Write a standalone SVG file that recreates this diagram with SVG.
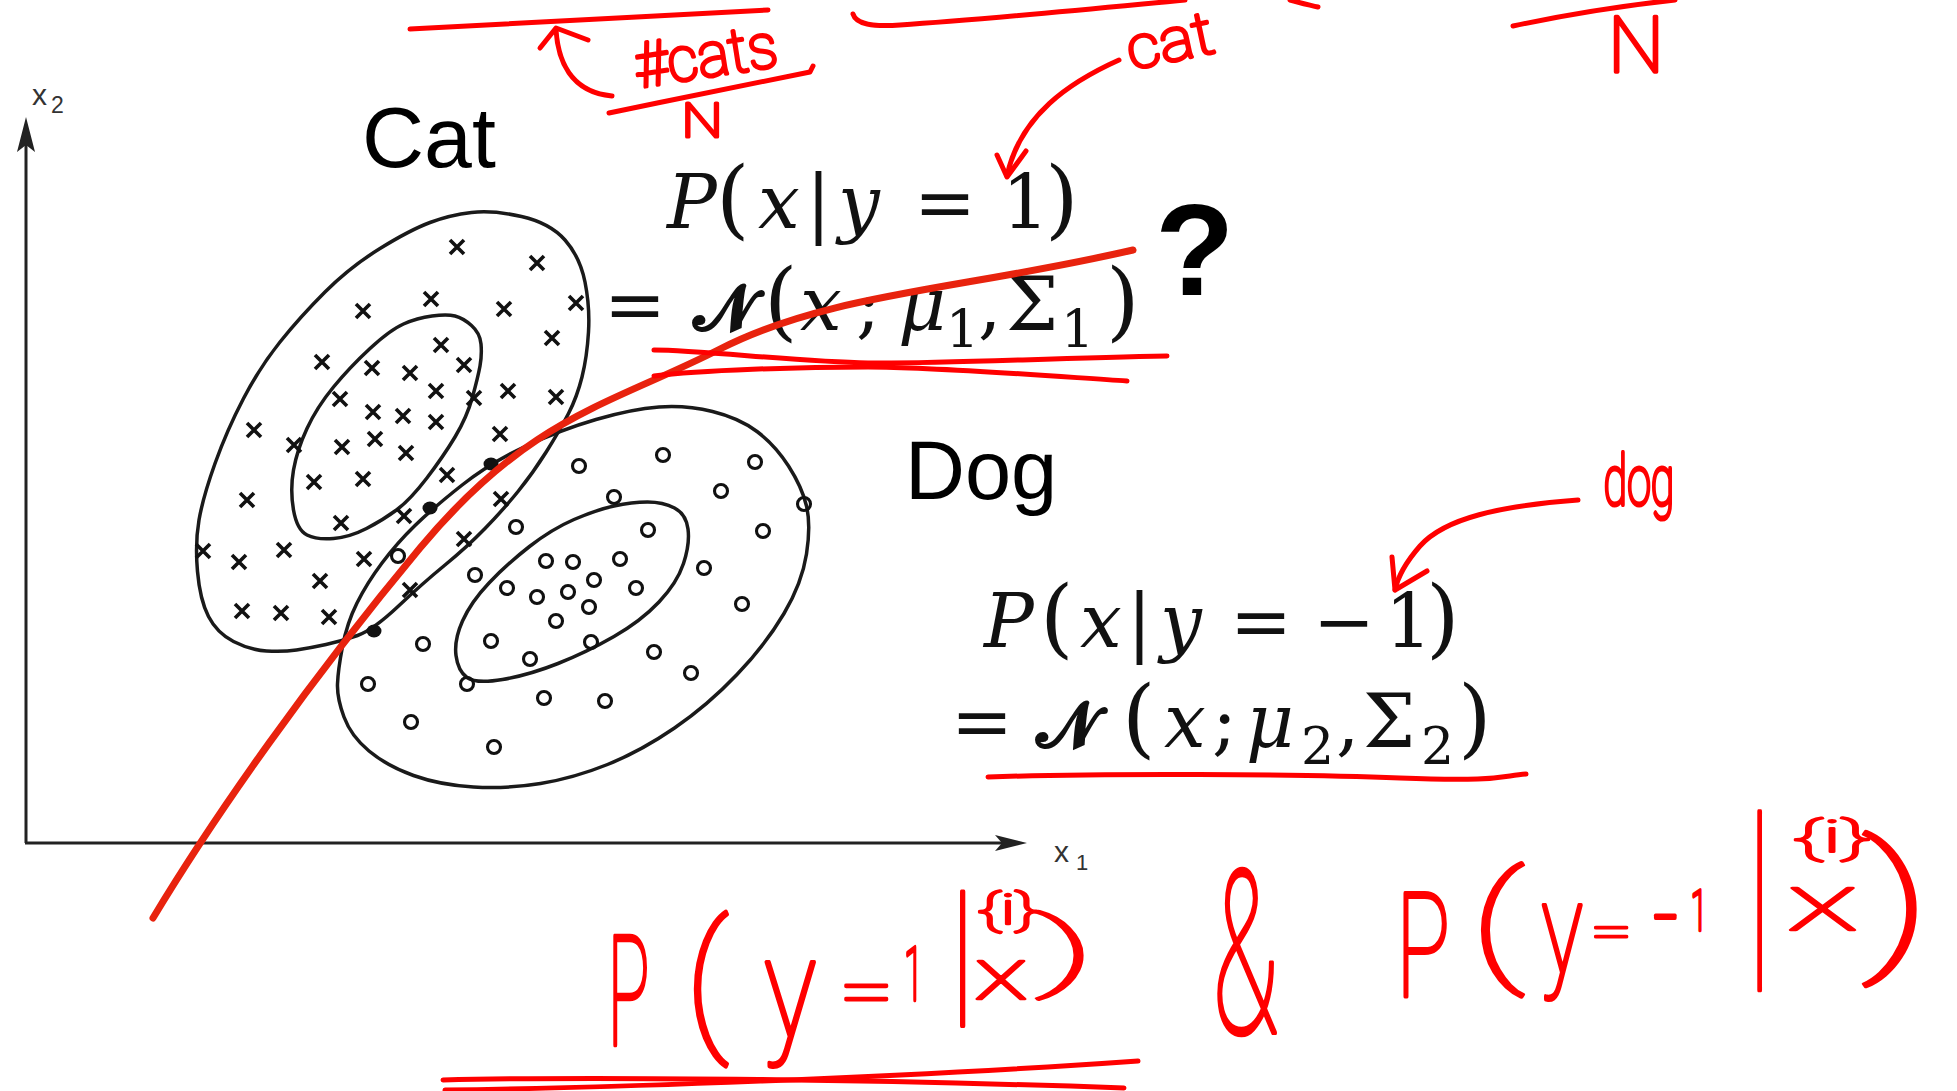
<svg xmlns="http://www.w3.org/2000/svg" xmlns:xlink="http://www.w3.org/1999/xlink" width="1957" height="1091" viewBox="0 0 1957 1091">
<style>
.ax{stroke:#222;stroke-width:3;fill:none}
.ell{stroke:#1a1a1a;stroke-width:3.5;fill:none}
.red{stroke:#ff0000;stroke-width:5;fill:none;stroke-linecap:round;stroke-linejoin:round}
.curve{stroke:#e8230e;stroke-width:7;fill:none;stroke-linecap:round}
.lbl{font-family:"Liberation Sans",Arial,sans-serif;fill:#000}
.axl{font-family:"Liberation Sans",Arial,sans-serif;fill:#333}
.m{font-family:"DejaVu Serif","Liberation Serif",serif;font-size:74px;fill:#111}
.i{font-style:italic}
.p{font-size:86px}
.sub{font-size:52px}
.nn{font-size:64px;font-weight:bold}
.hw{fill:#ff0000;font-family:Roboto,"Liberation Sans",sans-serif;font-weight:100;font-size:100px;text-anchor:middle;stroke:#ff0000;stroke-width:3.5;vector-effect:non-scaling-stroke;stroke-linejoin:round}
.hws{fill:#ff0000;font-family:Roboto,"Liberation Sans",sans-serif;font-weight:100;font-size:100px;stroke:#ff0000;stroke-width:3.5;vector-effect:non-scaling-stroke;stroke-linejoin:round}
</style>
<defs>
<path id="xm" d="M-7,-7 L7,7 M7,-7 L-7,7" stroke="#111" stroke-width="3.6" fill="none"/>
<circle id="om" r="6.5" fill="none" stroke="#111" stroke-width="3.1"/>
</defs>
<rect width="1957" height="1091" fill="#fff"/>

<g id="axes">
<line class="ax" x1="26" y1="843" x2="26" y2="140"/>
<path d="M26,117 L35,152 L26,145 L17,152 Z" fill="#222"/>
<line class="ax" x1="25" y1="843" x2="1008" y2="843"/>
<path d="M1027,843 L995,835 L1002,843 L995,851 Z" fill="#222"/>
<text class="axl" x="32" y="105" font-size="30">x</text><text class="axl" x="51" y="113" font-size="23">2</text>
<text class="axl" x="1054" y="862" font-size="30">x</text><text class="axl" x="1076" y="870" font-size="22">1</text>
</g>

<g id="cat-cluster">
<path class="ell" d="M430,222.5 Q450,215 471.5,212.5 Q493,210 521.5,216.5 Q550,223 565,240 Q580,257 585,282 Q590,307 588.5,332 Q587,357 582,377 Q577,397 568.5,413.5 Q560,430 546.5,451.5 Q533,473 518,491.5 Q503,510 485,528.5 Q467,547 445,565 Q423,583 398,606.5 Q373,630 357.5,635.5 Q342,641 326,644.5 Q310,648 296.5,650 Q283,652 266.5,651 Q250,650 233.5,641.5 Q217,633 208.5,616.5 Q200,600 197.5,571.5 Q195,543 199,520 Q203,497 215,463.5 Q227,430 243.5,398.5 Q260,367 280,342 Q300,317 325,292 Q350,267 380,248.5 Q410,230 430,222.5 Z"/>
<path class="ell" d="M403.5,324 Q417,318 432,316 Q447,314 455,316 Q463,318 471.5,325.5 Q480,333 481,344 Q482,355 480,366 Q478,377 472.5,397 Q467,417 455,437 Q443,457 426.5,478.5 Q410,500 396.5,510 Q383,520 366.5,528.5 Q350,537 333.5,538.5 Q317,540 307,535 Q297,530 293.5,510 Q290,490 293.5,470 Q297,450 307,428.5 Q317,407 333.5,387 Q350,367 370,348.5 Q390,330 403.5,324 Z"/>
<use href="#xm" x="457" y="247"/><use href="#xm" x="537" y="263"/><use href="#xm" x="431" y="299"/><use href="#xm" x="363" y="311"/><use href="#xm" x="504" y="309"/><use href="#xm" x="576" y="303"/><use href="#xm" x="552" y="338"/><use href="#xm" x="441" y="345"/><use href="#xm" x="322" y="362"/><use href="#xm" x="372" y="368"/><use href="#xm" x="410" y="373"/><use href="#xm" x="464" y="365"/><use href="#xm" x="436" y="391"/><use href="#xm" x="340" y="399"/><use href="#xm" x="474" y="398"/><use href="#xm" x="508" y="391"/><use href="#xm" x="556" y="397"/><use href="#xm" x="373" y="412"/><use href="#xm" x="403" y="416"/><use href="#xm" x="436" y="422"/><use href="#xm" x="254" y="430"/><use href="#xm" x="294" y="445"/><use href="#xm" x="375" y="439"/><use href="#xm" x="342" y="447"/><use href="#xm" x="406" y="453"/><use href="#xm" x="500" y="434"/><use href="#xm" x="314" y="482"/><use href="#xm" x="363" y="479"/><use href="#xm" x="447" y="475"/><use href="#xm" x="247" y="500"/><use href="#xm" x="341" y="523"/><use href="#xm" x="404" y="516"/><use href="#xm" x="501" y="499"/><use href="#xm" x="203" y="551"/><use href="#xm" x="239" y="562"/><use href="#xm" x="284" y="550"/><use href="#xm" x="364" y="559"/><use href="#xm" x="464" y="539"/><use href="#xm" x="320" y="581"/><use href="#xm" x="410" y="590"/><use href="#xm" x="242" y="611"/><use href="#xm" x="281" y="613"/><use href="#xm" x="329" y="617"/>
</g>

<g id="dog-cluster">
<path class="ell" d="M596,419.5 Q632,409 659,407 Q686,405 712.5,411.5 Q739,418 757,431.5 Q775,445 788.5,466 Q802,487 806.5,506 Q811,525 806.5,554 Q802,583 784,613.5 Q766,644 737,674.5 Q708,705 674.5,728 Q641,751 607.5,764.5 Q574,778 540.5,783.5 Q507,789 473.5,787 Q440,785 413.5,775.5 Q387,766 369,751 Q351,736 344,717 Q337,698 337.5,684 Q338,670 342.5,646.5 Q347,623 357,603 Q367,583 382,563 Q397,543 415,525.5 Q433,508 461.5,485.5 Q490,463 525,446.5 Q560,430 596,419.5 Z"/>
<path class="ell" d="M614,506 Q632,502 647.5,502 Q663,502 674.5,508 Q686,514 688,529 Q690,544 683.5,563.5 Q677,583 659,602 Q641,621 614,636.5 Q587,652 558,663.5 Q529,675 502.5,679.5 Q476,684 467,677.5 Q458,671 456,655.5 Q454,640 462.5,621 Q471,602 489,583 Q507,564 529.5,546.5 Q552,529 574,519.5 Q596,510 614,506 Z"/>
<use href="#om" x="663" y="455"/><use href="#om" x="579" y="466"/><use href="#om" x="755" y="462"/><use href="#om" x="721" y="491"/><use href="#om" x="614" y="497"/><use href="#om" x="804" y="504"/><use href="#om" x="516" y="527"/><use href="#om" x="648" y="530"/><use href="#om" x="763" y="531"/><use href="#om" x="398" y="556"/><use href="#om" x="546" y="561"/><use href="#om" x="573" y="562"/><use href="#om" x="620" y="559"/><use href="#om" x="704" y="568"/><use href="#om" x="475" y="575"/><use href="#om" x="507" y="588"/><use href="#om" x="537" y="597"/><use href="#om" x="568" y="592"/><use href="#om" x="594" y="580"/><use href="#om" x="636" y="588"/><use href="#om" x="742" y="604"/><use href="#om" x="589" y="607"/><use href="#om" x="556" y="621"/><use href="#om" x="491" y="641"/><use href="#om" x="591" y="642"/><use href="#om" x="423" y="644"/><use href="#om" x="654" y="652"/><use href="#om" x="530" y="659"/><use href="#om" x="691" y="673"/><use href="#om" x="368" y="684"/><use href="#om" x="467" y="684"/><use href="#om" x="544" y="698"/><use href="#om" x="605" y="701"/><use href="#om" x="411" y="722"/><use href="#om" x="494" y="747"/>
</g>

<g id="boundary-dots" fill="#111">
<ellipse cx="491" cy="464" rx="7.5" ry="6.5"/><ellipse cx="430" cy="508" rx="7.5" ry="6.5"/><ellipse cx="374" cy="631" rx="7.5" ry="6.5"/>
</g>

<g id="labels">
<text class="lbl" x="362" y="167" font-size="86">Cat</text>
<text class="lbl" x="905" y="499" font-size="83">Dog</text>
<text class="lbl" x="1155" y="295" font-size="130" font-weight="bold">?</text>
</g>

<g id="eq-cat">
<text class="m" y="228"><tspan x="667" class="i">P</tspan><tspan x="716" class="p">(</tspan><tspan x="758" class="i">x</tspan><tspan x="806">|</tspan><tspan x="838" class="i">y</tspan><tspan x="914">=</tspan><tspan x="1002">1</tspan><tspan x="1045" class="p">)</tspan></text>
<text class="m" y="330"><tspan x="604">=</tspan><tspan x="693" class="nn">𝓝</tspan><tspan x="764" class="p">(</tspan><tspan x="800" class="i">x</tspan><tspan x="856">;</tspan><tspan x="898" class="i">μ</tspan><tspan x="946" y="347" class="sub">1</tspan><tspan x="978" y="330">,</tspan><tspan x="1006">Σ</tspan><tspan x="1061" y="347" class="sub">1</tspan><tspan x="1106" y="330" class="p">)</tspan></text>
</g>

<g id="eq-dog">
<text class="m" y="647"><tspan x="984" class="i">P</tspan><tspan x="1040" class="p">(</tspan><tspan x="1080" class="i">x</tspan><tspan x="1127">|</tspan><tspan x="1160" class="i">y</tspan><tspan x="1230">=</tspan><tspan x="1313">−</tspan><tspan x="1385">1</tspan><tspan x="1426" class="p">)</tspan></text>
<text class="m" y="747"><tspan x="951">=</tspan><tspan x="1036" class="nn">𝓝</tspan><tspan x="1122" class="p">(</tspan><tspan x="1164" class="i">x</tspan><tspan x="1212">;</tspan><tspan x="1246" class="i">μ</tspan><tspan x="1301" y="764" class="sub">2</tspan><tspan x="1336" y="747">,</tspan><tspan x="1363">Σ</tspan><tspan x="1421" y="764" class="sub">2</tspan><tspan x="1458" y="747" class="p">)</tspan></text>
</g>

<g id="decision-curve">
<path class="curve" d="M153,918 C215,815 310,680 420,548 S610,405 720,349 S960,290 1133,250"/>
</g>

<g id="annotations">
<path class="red" stroke-width="8" d="M410,29 C520,24 650,16 768,10"/>
<path class="red" stroke-width="6" d="M853,14 C856,24 872,27 900,25 C980,20 1080,10 1185,0"/>
<path class="red" stroke-width="6" d="M1290,0 C1300,3 1310,5 1318,7"/>
<path class="red" stroke-width="7" d="M1513,26 C1560,16 1620,6 1675,0"/>
<path class="red" d="M556,30 C558,60 570,92 612,96"/>
<path class="red" d="M540,48 L556,28 L588,40"/>
<path class="red" d="M609,113 C680,98 760,82 810,72 L813,66"/>
<text class="hws" transform="translate(638,88) rotate(-9) scale(0.6,0.62)">#cats</text>
<text class="hw" transform="translate(702,137) scale(0.59,0.48)">N</text>
<text class="hws" transform="translate(1131,70) rotate(-12) scale(0.65,0.6)">cat</text>
<path class="red" d="M1119,60 C1070,82 1020,115 1007,176"/>
<path class="red" d="M997,155 L1007,177 L1026,151"/>
<text class="hw" transform="translate(1636,72) scale(0.8,0.78)">N</text>
<path class="red" d="M654,350 C700,350 800,362 868,363 S1050,358 1167,356"/>
<path class="red" d="M654,376 C700,370 800,367 868,367 S1050,376 1127,381"/>
<text class="hw" transform="translate(1639,505) scale(0.43,0.7)">dog</text>
<path class="red" d="M1578,500 C1500,506 1445,518 1420,546 C1406,562 1398,576 1395,590"/>
<path class="red" d="M1392,557 L1395,590 L1427,571"/>
<path class="red" d="M988,777 C1100,773 1300,774 1400,778 S1500,776 1526,774"/>
</g>

<g id="posterior">
<text class="hw" transform="translate(628.5,1045) scale(0.7,1.52)">P</text>
<text class="hw" transform="translate(707,1032) scale(1.5,1.53)">(</text>
<text class="hw" transform="translate(790,1037) scale(1.1,1.41)">y</text>
<text class="hw" transform="translate(866.5,1014) scale(0.98,0.67)">=</text>
<text class="hw" transform="translate(913.5,1000) scale(0.35,0.75)">1</text>
<text class="hw" transform="translate(962.5,1005) scale(1,1.59)">|</text>
<text class="hw" transform="translate(1001,999) scale(1.11,0.72)">x</text>
<text class="hw" transform="translate(1008,924) scale(0.72,0.42)">{i}</text>
<text class="hw" transform="translate(1066,980) scale(2.1,0.87)">)</text>
<path class="red" d="M443,1080 C600,1076 900,1080 1124,1088"/>
<path class="red" d="M445,1090 C600,1088 900,1078 1138,1061"/>
<text class="hw" transform="translate(1245.5,1033) scale(1.09,2.27)">&amp;</text>
<text class="hw" transform="translate(1423,997) scale(0.9,1.44)">P</text>
<text class="hw" transform="translate(1497.5,967) scale(1.9,1.31)">(</text>
<text class="hw" transform="translate(1562,973) scale(0.87,1.28)">y</text>
<text class="hw" transform="translate(1611.5,947) scale(0.74,0.47)">=</text>
<text class="hw" transform="translate(1665.5,949) scale(0.85,1)">-</text>
<text class="hw" transform="translate(1699,930) scale(0.3,0.56)">1</text>
<text class="hw" transform="translate(1759.5,962) scale(1,2.12)">|</text>
<text class="hw" transform="translate(1822.5,930) scale(1.49,0.8)">x</text>
<text class="hw" transform="translate(1832,852) scale(0.92,0.44)">{i}</text>
<text class="hw" transform="translate(1897,952) scale(2.4,1.53)">)</text>
</g>
</svg>
